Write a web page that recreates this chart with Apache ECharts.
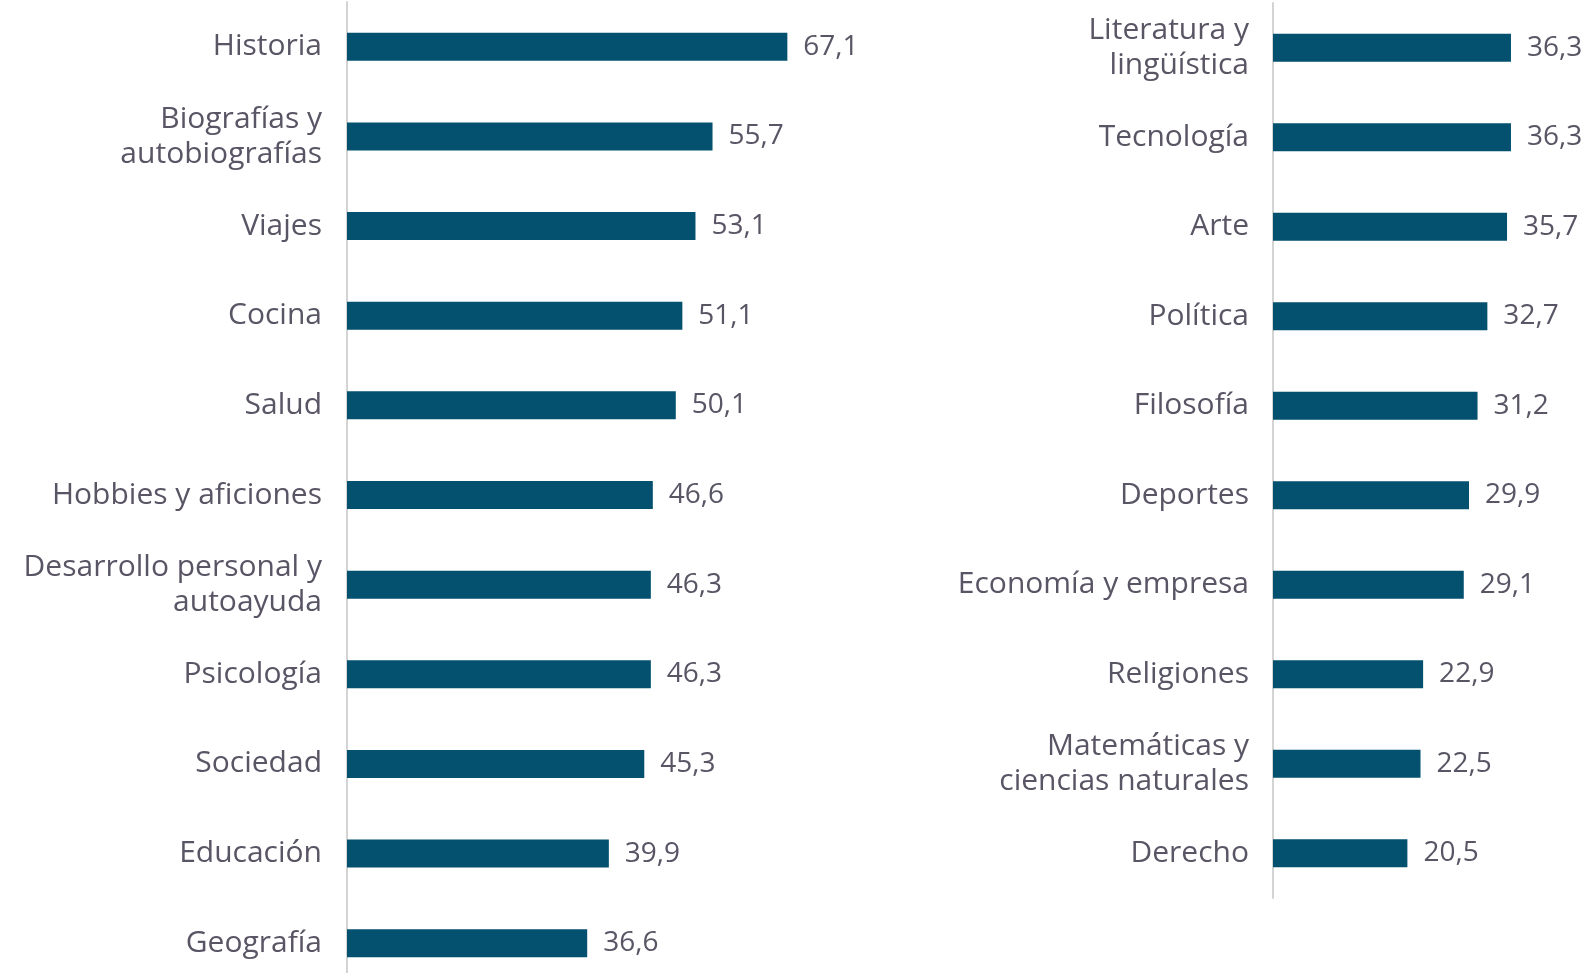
<!DOCTYPE html>
<html>
<head>
<meta charset="utf-8">
<title>Temas de lectura</title>
<script src="https://cdn.jsdelivr.net/npm/echarts@6/dist/echarts.min.js"></script>
<style>
  html, body { margin: 0; padding: 0; background: #ffffff; }
  #chart { width: 1588px; height: 973px; }
</style>
</head>
<body>
<div id="chart"></div>
<script>
// Left column of topics and their percentages
const leftCategories = [
  'Historia',
  'Biografías y\nautobiografías',
  'Viajes',
  'Cocina',
  'Salud',
  'Hobbies y aficiones',
  'Desarrollo personal y\nautoayuda',
  'Psicología',
  'Sociedad',
  'Educación',
  'Geografía'
];
const leftValues = [67.1, 55.7, 53.1, 51.1, 50.1, 46.6, 46.3, 46.3, 45.3, 39.9, 36.6];

// Right column of topics and their percentages
const rightCategories = [
  'Literatura y\nlingüística',
  'Tecnología',
  'Arte',
  'Política',
  'Filosofía',
  'Deportes',
  'Economía y empresa',
  'Religiones',
  'Matemáticas y\nciencias naturales',
  'Derecho'
];
const rightValues = [36.3, 36.3, 35.7, 32.7, 31.2, 29.9, 29.1, 22.9, 22.5, 20.5];

const FONT = '"Open Sans", "Noto Sans", sans-serif';
const TEXT_COLOR = '#5a5565';
const BAR_COLOR = '#03506f';

const chart = echarts.init(document.getElementById('chart'), null, { renderer: 'canvas' });

function categoryAxis(gridIndex, data, margin) {
  return {
    type: 'category',
    gridIndex: gridIndex,
    data: data,
    inverse: true,
    axisLine: { show: true, lineStyle: { color: '#d4d4d4', width: 2 } },
    axisTick: { show: false },
    splitLine: { show: false },
    axisLabel: {
      margin: margin,
      fontFamily: FONT,
      fontSize: 30,
      lineHeight: 35,
      padding: [6, 0, 0, 0],
      color: TEXT_COLOR,
      align: 'right'
    }
  };
}

function valueAxis(gridIndex, max) {
  return {
    type: 'value',
    gridIndex: gridIndex,
    min: 0,
    max: max,
    show: false,
    splitLine: { show: false }
  };
}

function barSeries(index, values) {
  return {
    type: 'bar',
    xAxisIndex: index,
    yAxisIndex: index,
    data: values,
    barWidth: 28,
    itemStyle: { color: BAR_COLOR },
    label: {
      show: true,
      position: 'right',
      distance: 16,
      fontFamily: FONT,
      fontSize: 28,
      color: TEXT_COLOR,
      formatter: p => p.value.toFixed(1).replace('.', ',')
    },
    silent: true,
    animation: false
  };
}

chart.setOption({
  backgroundColor: '#ffffff',
  animation: false,
  grid: [
    { left: 347, top: 2, width: 525, height: 986, containLabel: false, outerBoundsMode: 'none' },
    { left: 1273, top: 3, width: 295, height: 895, containLabel: false, outerBoundsMode: 'none' }
  ],
  xAxis: [valueAxis(0, 80), valueAxis(1, 45)],
  yAxis: [categoryAxis(0, leftCategories, 25), categoryAxis(1, rightCategories, 24)],
  series: [barSeries(0, leftValues), barSeries(1, rightValues)]
});
</script>
</body>
</html>
